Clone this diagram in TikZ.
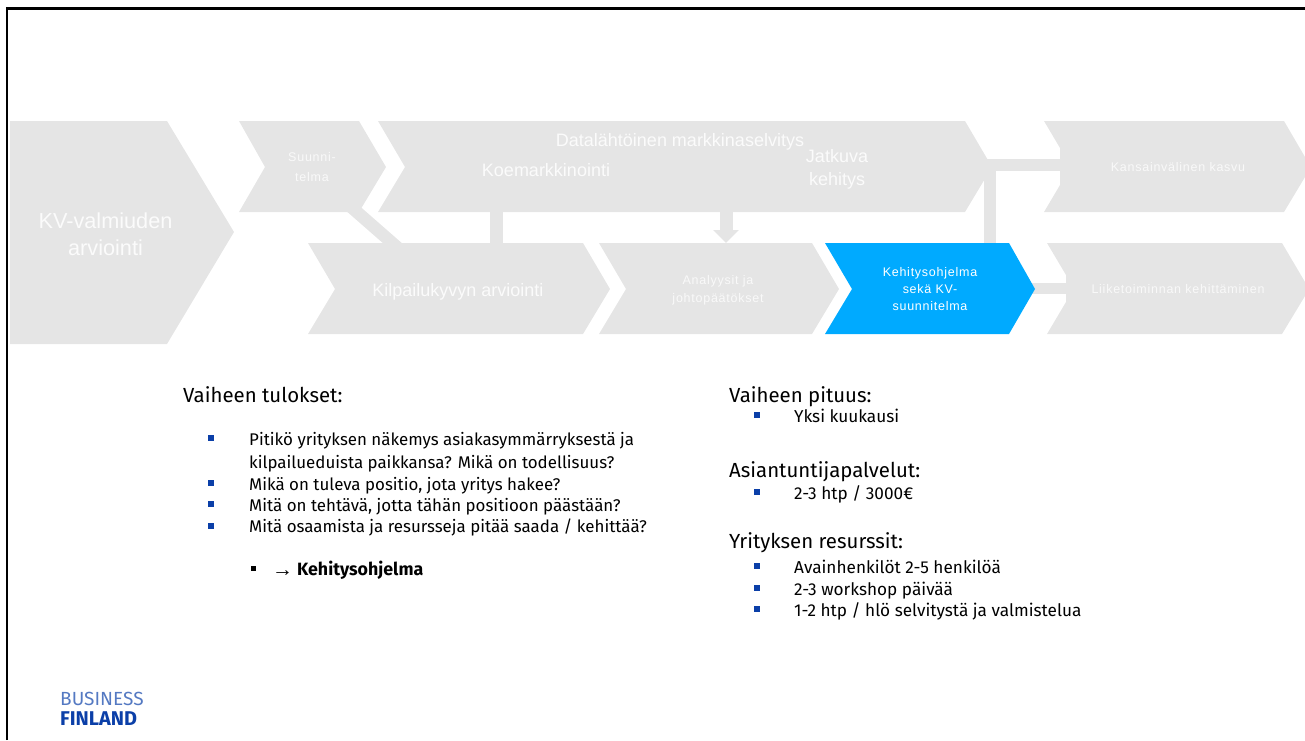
\documentclass[tikz,border=0pt]{standalone}
\usepackage{fontspec}
\usetikzlibrary{arrows.meta}
\setmainfont{Fira Sans}
\newfontfamily\arrowfont{Liberation Sans}
\newfontfamily\spacedfont[LetterSpace=6]{Liberation Sans}
\definecolor{stepgrey}{HTML}{E5E5E5}
\definecolor{stepblue}{HTML}{00AAFF}
\definecolor{bulletblue}{HTML}{0B3FA8}
\tikzset{
  bar/.style={draw=stepgrey, line width=12.5pt},
  bigtext/.style={text=white!85!stepgrey, align=center, font=\arrowfont\fontsize{18}{23}\selectfont},
  smalltext/.style={text=white!75!stepgrey, align=center, font=\spacedfont\fontsize{12.5}{18}\selectfont},
  heading/.style={anchor=base west, inner sep=0pt, font=\fontsize{20.4}{24}\selectfont},
  item/.style={anchor=base west, inner sep=0pt, font=\fontsize{16.9}{20}\selectfont},
  rightitem/.style={item, font=\fontsize{17.2}{20}\selectfont},
  bullet/.style={fill=bulletblue, inner sep=0pt, minimum size=5.5pt},
}
\begin{document}
\begin{tikzpicture}[x=1pt,y=-1pt]
\useasboundingbox (0,0) rectangle (1305,740);
\draw[line width=2.5pt] (7,740) -- (7,8.5) -- (1305,8.5);
% connectors
\coordinate (suunniout) at (350,206);
\coordinate (kilpin) at (398,248);
\coordinate (koeout) at (496,208);
\coordinate (kilpin2) at (496,248);
\coordinate (dataout) at (726,208);
\coordinate (analyysiin) at (726,243);
\coordinate (dataright) at (978,165);
\coordinate (kansain) at (1064,165);
\coordinate (bend) at (990,165);
\coordinate (kehitysin) at (990,246);
\coordinate (kehitysout) at (1025,288.5);
\coordinate (liikein) at (1070,288.5);
\draw[bar] (suunniout) -- (kilpin);
\draw[bar, line width=13pt] (koeout) -- (kilpin2);
\draw[bar, line width=13pt, -{Triangle[width=25pt,length=13pt]}, stepgrey] (dataout) -- (analyysiin);
\draw[bar] (dataright) -- (kansain);
\draw[bar] (bend) -- (kehitysin);
\draw[draw=stepgrey, line width=11pt] (kehitysout) -- (liikein);
% chevrons
\fill[stepgrey] (10,121) -- (167,121) -- (234,232) -- (167,344) -- (10,344) -- cycle;
\fill[stepgrey] (239,121) -- (359,121) -- (386,167) -- (359,212) -- (239,212) -- (265,167) -- cycle;
\fill[stepgrey] (378,121) -- (965,121) -- (992,167) -- (965,212) -- (378,212) -- (405,167) -- cycle;
\fill[stepgrey] (1044,121) -- (1284,121) -- (1305,157) -- (1305,177) -- (1284,212) -- (1044,212) -- (1060,185) -- (1060,148) -- cycle;
\fill[stepgrey] (308,243) -- (583,243) -- (610,289) -- (583,334) -- (308,334) -- (335,289) -- cycle;
\fill[stepgrey] (599,243) -- (812,243) -- (839,289) -- (812,334) -- (599,334) -- (626,289) -- cycle;
\fill[stepblue] (825,243) -- (1009,243) -- (1035,289) -- (1009,334) -- (825,334) -- (852,289) -- cycle;
\fill[stepgrey] (1047,243) -- (1282,243) -- (1305,282) -- (1305,296) -- (1282,334) -- (1047,334) -- (1066,302) -- (1066,275) -- cycle;
% labels
\node[bigtext, font=\arrowfont\fontsize{21.7}{27}\selectfont] (valmius) at (105.5,234.5) {KV-valmiuden\\arviointi};
\node[smalltext, font=\spacedfont\fontsize{12.5}{20}\selectfont] (suunni) at (312,167) {Suunni-\\telma};
\node[bigtext] (data) at (680,142) {Datalähtöinen markkinaselvitys};
\node[bigtext] (koe) at (546,170) {Koemarkkinointi};
\node[bigtext] (jatkuva) at (837,169.5) {Jatkuva\\kehitys};
\node[bigtext] (kilp) at (458,292) {Kilpailukyvyn arviointi};
\node[smalltext] (analyysi) at (718,290.5) {Analyysit ja\\johtopäätökset};
\node[smalltext, text=white, font=\spacedfont\fontsize{12.5}{17}\selectfont] (kehitys) at (930,289) {Kehitysohjelma\\sekä KV-\\suunnitelma};
\node[smalltext] (kansainv) at (1178,167) {Kansainvälinen kasvu};
\node[smalltext] (liike) at (1178,289) {Liiketoiminnan kehittäminen};
% left list
\node[heading] (tulokset) at (183,402) {Vaiheen tulokset:};
\foreach \y in {438,483,504,526}
    \node[bullet] at (211,\y) {};
\node[item] (t1) at (249,445) {Pitikö yrityksen näkemys asiakasymmärryksestä ja};
\node[item] (t2) at (249,468) {kilpailueduista paikkansa? Mikä on todellisuus?};
\node[item] (t3) at (249,490) {Mikä on tuleva positio, jota yritys hakee?};
\node[item] (t4) at (249,511) {Mitä on tehtävä, jotta tähän positioon päästään?};
\node[item] (t5) at (249,532) {Mitä osaamista ja resursseja pitää saada / kehittää?};
\node[bullet, fill=black, minimum size=5pt] (kb) at (253,568) {};
\node[item, font=\arrowfont\fontsize{21}{20}\selectfont] (karrow) at (272,576) {→};
\node[item, font=\bfseries\fontsize{17.8}{20}\selectfont] (kohj) at (297,575) {Kehitysohjelma};
% right list
\node[heading] (pituus) at (729,402) {Vaiheen pituus:};
\node[bullet] at (757,415) {};
\node[rightitem] (p1) at (794,422) {Yksi kuukausi};
\node[heading] (asiantuntija) at (729,477) {Asiantuntijapalvelut:};
\node[bullet] at (757,492) {};
\node[rightitem] (a1) at (794,499) {2-3 htp / 3000€};
\node[heading] (resurssit) at (729,548) {Yrityksen resurssit:};
\foreach \y/\txt in {566/{Avainhenkilöt 2-5 henkilöä}, 588/{2-3 workshop päivää}, 609/{1-2 htp / hlö selvitystä ja valmistelua}} {
    \node[bullet] at (757,\y) {};
    \node[rightitem] at (794,\y+7) {\txt};
}
% logo
\node[anchor=base west, inner sep=0pt, text=bulletblue!70, font=\fontsize{19}{20}\selectfont] (business) at (60,705.5) {BUSINESS};
\node[anchor=base west, inner sep=0pt, text=bulletblue, font=\bfseries\fontsize{19.9}{20}\selectfont] (finland) at (60,725) {FINLAND};
\end{tikzpicture}
\end{document}
